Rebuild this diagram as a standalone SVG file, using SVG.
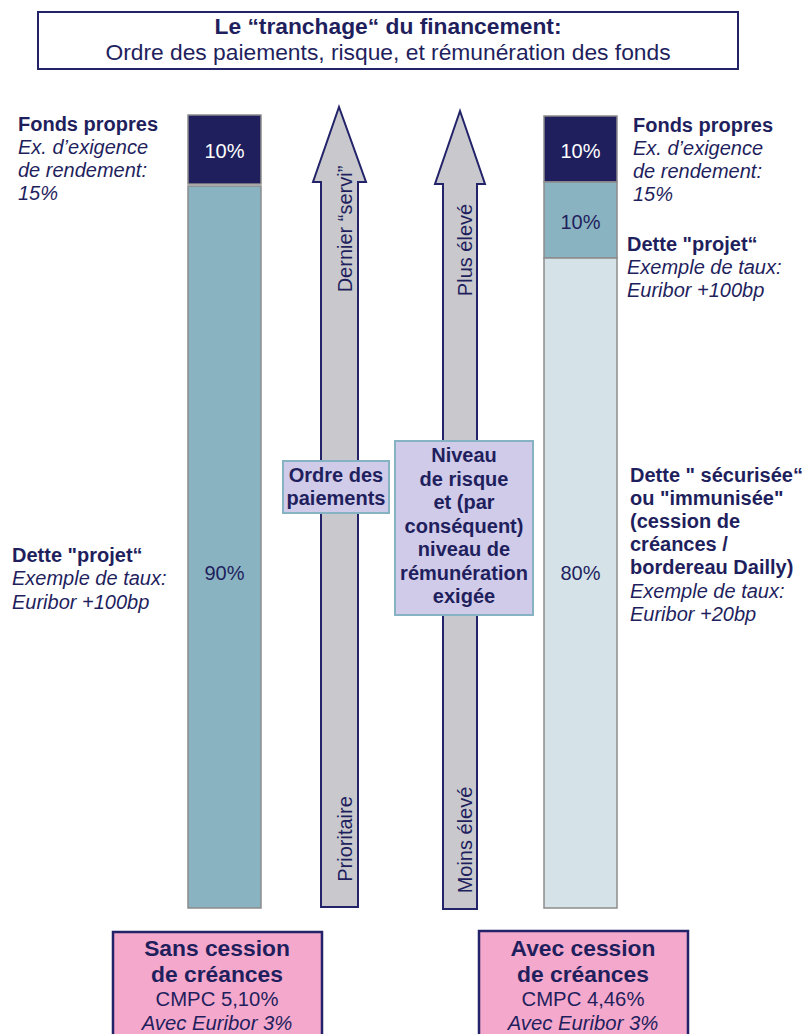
<svg xmlns="http://www.w3.org/2000/svg" width="808" height="1034" viewBox="0 0 808 1034">
<style>
text{font-family:"Liberation Sans",Arial,sans-serif;fill:#1f1f5e}
.b{font-weight:bold}
.i{font-style:italic}
.s20{font-size:20px}
.c{text-anchor:middle}
.bar{stroke:#8c8c8c;stroke-width:1.5}
.arrow{fill:#c9c9cd;stroke:#23236a;stroke-width:2}
.lab{fill:#cfcbe8;stroke:#86b3c3;stroke-width:2}
.pink{fill:#f4a8cb;stroke:#23236a;stroke-width:2.5}
</style>
<rect width="808" height="1034" fill="#ffffff"/>
<g id="title">
<rect x="38" y="12" width="700" height="57" fill="#ffffff" stroke="#23236a" stroke-width="2"/>
<text x="388" y="34" class="c b" font-size="22.8">Le “tranchage“ du financement:</text>
<text x="388" y="60" class="c" font-size="22.8">Ordre des paiements, risque, et rémunération des fonds</text>
</g>
<g id="left-bar">
<rect x="188" y="115" width="73" height="69" fill="#1f1f5e" class="bar"/>
<rect x="188" y="186" width="73" height="722" fill="#8ab3c1" class="bar"/>
<text x="224.5" y="158" class="c s20" style="fill:#ffffff">10%</text>
<text x="224.5" y="580" class="c s20">90%</text>
</g>
<g id="right-bar">
<rect x="544" y="116" width="73" height="66" fill="#1f1f5e" class="bar"/>
<rect x="544" y="182" width="73" height="76" fill="#8ab3c1" class="bar"/>
<rect x="544" y="258" width="73" height="650" fill="#d5e3e8" class="bar"/>
<text x="580.5" y="158" class="c s20" style="fill:#ffffff">10%</text>
<text x="580.5" y="229" class="c s20">10%</text>
<text x="580.5" y="580" class="c s20">80%</text>
</g>
<g id="connectors">
<polygon id="arrow-paiements" class="arrow" points="321,907 321,182 313,182 339,107 366,182 358,182 358,907"/>
<polygon id="arrow-risque" class="arrow" points="443,909 443,184 435,184 460,111 485,184 477,184 477,909"/>
<text transform="translate(352,229) rotate(-90)" class="c s20">Dernier “servi”</text>
<text transform="translate(352,839) rotate(-90)" class="c s20">Prioritaire</text>
<text transform="translate(472,250) rotate(-90)" class="c s20">Plus élevé</text>
<text transform="translate(472,840) rotate(-90)" class="c s20">Moins élevé</text>
</g>
<g id="label-ordre">
<rect x="283" y="461" width="106" height="52" class="lab"/>
<text x="336" y="482" class="c b s20">Ordre des</text>
<text x="336" y="505" class="c b s20">paiements</text>
</g>
<g id="label-niveau">
<rect x="395" y="441" width="138" height="174" class="lab"/>
<text x="464" y="462" class="c b s20">Niveau</text>
<text x="464" y="485.5" class="c b s20">de risque</text>
<text x="464" y="509" class="c b s20">et (par</text>
<text x="464" y="532.5" class="c b s20">conséquent)</text>
<text x="464" y="556" class="c b s20">niveau de</text>
<text x="464" y="579.5" class="c b s20">rémunération</text>
<text x="464" y="603" class="c b s20">exigée</text>
</g>
<g id="left-fonds-propres">
<text x="18" y="131" class="b s20">Fonds propres</text>
<text x="18" y="154" class="i s20">Ex. d’exigence</text>
<text x="18" y="177" class="i s20">de rendement:</text>
<text x="18" y="200" class="i s20">15%</text>
</g>
<g id="left-dette-projet">
<text x="12" y="562" class="b s20">Dette "projet“</text>
<text x="12" y="585" class="i s20">Exemple de taux:</text>
<text x="12" y="609" class="i s20">Euribor +100bp</text>
</g>
<g id="right-fonds-propres">
<text x="633" y="132" class="b s20">Fonds propres</text>
<text x="633" y="155" class="i s20">Ex. d’exigence</text>
<text x="633" y="178" class="i s20">de rendement:</text>
<text x="633" y="201" class="i s20">15%</text>
</g>
<g id="right-dette-projet">
<text x="627" y="251" class="b s20">Dette "projet“</text>
<text x="627" y="274" class="i s20">Exemple de taux:</text>
<text x="627" y="297" class="i s20">Euribor +100bp</text>
</g>
<g id="right-dette-securisee">
<text x="630" y="482" class="b s20">Dette " sécurisée“</text>
<text x="630" y="505" class="b s20">ou "immunisée"</text>
<text x="630" y="528" class="b s20">(cession de</text>
<text x="630" y="551" class="b s20">créances /</text>
<text x="630" y="574" class="b s20">bordereau Dailly)</text>
<text x="630" y="598" class="i s20">Exemple de taux:</text>
<text x="630" y="621" class="i s20">Euribor +20bp</text>
</g>
<g id="box-sans">
<rect x="113" y="932" width="209" height="110" class="pink"/>
<text x="217" y="956" class="c b" font-size="22.8">Sans cession</text>
<text x="217" y="982" class="c b" font-size="22.8">de créances</text>
<text x="217" y="1006" class="c" font-size="20.3">CMPC 5,10%</text>
<text x="217" y="1030" class="c i" font-size="20.3">Avec Euribor 3%</text>
</g>
<g id="box-avec">
<rect x="479" y="931" width="209" height="110" class="pink"/>
<text x="583" y="956" class="c b" font-size="22.8">Avec cession</text>
<text x="583" y="982" class="c b" font-size="22.8">de créances</text>
<text x="583" y="1006" class="c" font-size="20.3">CMPC 4,46%</text>
<text x="583" y="1030" class="c i" font-size="20.3">Avec Euribor 3%</text>
</g>
</svg>
